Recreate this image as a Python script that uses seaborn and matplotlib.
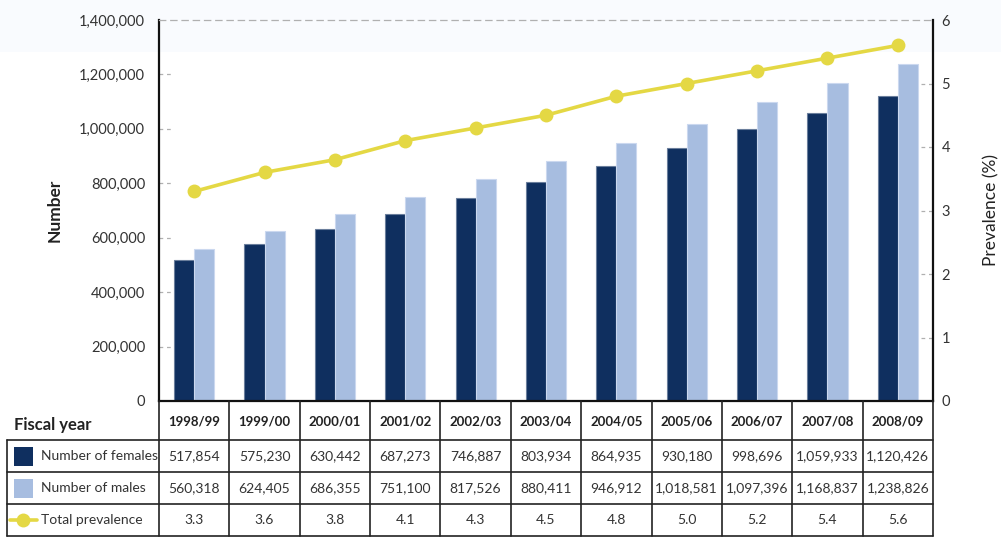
import matplotlib
matplotlib.use("Agg")
import matplotlib.pyplot as plt
import matplotlib.transforms as mtransforms
import seaborn as sns
import numpy as np
import pandas as pd
from matplotlib.patches import Rectangle
from matplotlib.lines import Line2D
from matplotlib.ticker import FuncFormatter

years = ["1998/99", "1999/00", "2000/01", "2001/02", "2002/03", "2003/04",
         "2004/05", "2005/06", "2006/07", "2007/08", "2008/09"]
females = [517854, 575230, 630442, 687273, 746887, 803934, 864935, 930180,
           998696, 1059933, 1120426]
males = [560318, 624405, 686355, 751100, 817526, 880411, 946912, 1018581,
         1097396, 1168837, 1238826]
prevalence = [3.3, 3.6, 3.8, 4.1, 4.3, 4.5, 4.8, 5.0, 5.2, 5.4, 5.6]
series_labels = ["Number of females", "Number of males", "Total prevalence"]
left_ticks = [0, 200000, 400000, 600000, 800000, 1000000, 1200000, 1400000]
right_ticks = [0, 1, 2, 3, 4, 5, 6]

C_F = "#0f2f5f"
C_M = "#a7bde0"
C_Y = "#e4d844"
TXT = "#333333"

sns.set_theme(style="white")
plt.rcParams["font.family"] = ["Lato", "DejaVu Sans"]

W, H = 1001, 540
fig = plt.figure(figsize=(W / 100, H / 100), dpi=100)
fig.patch.set_facecolor("white")

bg = fig.add_axes([0, 0, 1, 1], zorder=-10)
bg.set_xlim(0, 1)
bg.set_ylim(0, 1)
bg.axis("off")
bg.add_patch(Rectangle((0, 1 - 52 / H), 1, 52 / H, facecolor="#f9fbfe", edgecolor="none"))

L, R, T, B = 159, 933, 20, 401
ax = fig.add_axes([L / W, 1 - B / H, (R - L) / W, (B - T) / H])
ax.set_facecolor("none")

df = pd.DataFrame({
    "year": years * 2,
    "count": females + males,
    "sex": [series_labels[0]] * len(years) + [series_labels[1]] * len(years),
})
sns.barplot(data=df, x="year", y="count", hue="sex", order=years,
            hue_order=series_labels[:2], palette=[C_F, C_M], width=0.57,
            saturation=1, legend=False, ax=ax, zorder=2)
for cont, ec in zip(ax.containers, ["#6a7e9c", "#cbd8ef"]):
    for p in cont:
        p.set_edgecolor(ec)
        p.set_linewidth(0.8)

ax.set_xlim(-0.5, len(years) - 0.5)
ax.set_ylim(0, 1400000)
ax.set_yticks(left_ticks)
ax.yaxis.set_major_formatter(FuncFormatter(lambda v, p: f"{int(v):,}"))
ax.set_xticks([])
ax.set_xlabel("")
ax.set_ylabel("Number", fontsize=12.5, fontweight="bold", color="#222222", labelpad=12)
ax.tick_params(axis="y", direction="in", length=0, labelsize=10.5, labelcolor=TXT, pad=10)
for s in ["left", "bottom"]:
    ax.spines[s].set_color("#111111")
    ax.spines[s].set_linewidth(1.6)
ax.spines["right"].set_visible(False)
ax.spines["top"].set_color("#b0b0b0")
ax.spines["top"].set_linestyle((0, (5, 4)))
ax.spines["top"].set_linewidth(0.9)

# short dashed tick marks inside the left axis
tick_len = 12 / (R - L)
trans_l = mtransforms.blended_transform_factory(ax.transAxes, ax.transData)
for t in left_ticks[1:-1]:
    ax.add_line(Line2D([0, tick_len], [t, t], transform=trans_l, color="#b0b0b0",
                       lw=0.9, ls=(0, (3, 3)), zorder=1))

ax2 = ax.twinx()
ax2.set_facecolor("none")
idx = np.arange(len(years))
sns.lineplot(x=idx, y=prevalence, ax=ax2, color=C_Y, linewidth=2.6, marker="o",
             markersize=10, markeredgewidth=0, zorder=5)
ax2.set_ylim(0, 6)
ax2.set_yticks(right_ticks)
ax2.set_ylabel("Prevalence (%)", fontsize=12.5, color="#222222", labelpad=24,
               rotation=90)
ax2.tick_params(axis="y", direction="in", length=0, labelsize=10.5, labelcolor=TXT, pad=6)
ax2.spines["right"].set_color("#111111")
ax2.spines["right"].set_linewidth(1.6)
for s in ["left", "top", "bottom"]:
    ax2.spines[s].set_visible(False)
ax2.set_xlim(-0.5, len(years) - 0.5)

trans_r = mtransforms.blended_transform_factory(ax2.transAxes, ax2.transData)
for t in right_ticks[1:-1]:
    ax2.add_line(Line2D([1 - tick_len, 1], [t, t], transform=trans_r, color="#b0b0b0",
                        lw=0.9, ls=(0, (3, 3)), zorder=1))

# data table below the chart
TB = 536
tax = fig.add_axes([L / W, 1 - TB / H, (R - L) / W, (TB - B) / H])
tax.set_xlim(-0.5, len(years) - 0.5)
tax.set_ylim(TB - B, 0)
tax.axis("off")
colw = (R - L) / len(years)


def px(xp):
    return -0.5 + (xp - L) / colw


def py(yp):
    return yp - B


lc = "#222222"
lw = 1.2
xl = px(7)
for yy in [440, 472, 504, 535.5]:
    tax.add_line(Line2D([xl, len(years) - 0.5], [py(yy)] * 2, color=lc, lw=lw, clip_on=False))
for k in range(len(years) + 1):
    tax.add_line(Line2D([k - 0.5] * 2, [py(B), py(535.5)], color=lc, lw=lw, clip_on=False))
tax.add_line(Line2D([xl, xl], [py(440), py(535.5)], color=lc, lw=lw, clip_on=False))

tax.text(px(14), py(425), "Fiscal year", fontsize=12, fontweight="bold", color="#222222",
         ha="left", va="center", clip_on=False)
rows_y = [456, 488, 520]
for i, y in enumerate(years):
    tax.text(i, py(421), y, fontsize=9.5, fontweight="bold", color="#222222",
             ha="center", va="center")
    tax.text(i, py(rows_y[0]), f"{females[i]:,}", fontsize=10, color=TXT,
             ha="center", va="center")
    tax.text(i, py(rows_y[1]), f"{males[i]:,}", fontsize=10, color=TXT,
             ha="center", va="center")
    tax.text(i, py(rows_y[2]), f"{prevalence[i]:.1f}", fontsize=10, color=TXT,
             ha="center", va="center")

for j, c in enumerate([C_F, C_M]):
    yc = rows_y[j]
    tax.add_patch(Rectangle((px(14), py(yc - 9.5)), px(33) - px(14), 19, facecolor=c,
                            edgecolor="none", clip_on=False))
tax.add_line(Line2D([px(10), px(37)], [py(rows_y[2])] * 2, color=C_Y, lw=2.6, clip_on=False))
tax.add_line(Line2D([px(23)], [py(rows_y[2])], color=C_Y, marker="o", markersize=10,
                    markeredgewidth=0, clip_on=False))
for j, lab in enumerate(series_labels):
    tax.text(px(41), py(rows_y[j]), lab, fontsize=10, color=TXT, ha="left",
             va="center", clip_on=False)

fig.savefig("out.png", dpi=100)
